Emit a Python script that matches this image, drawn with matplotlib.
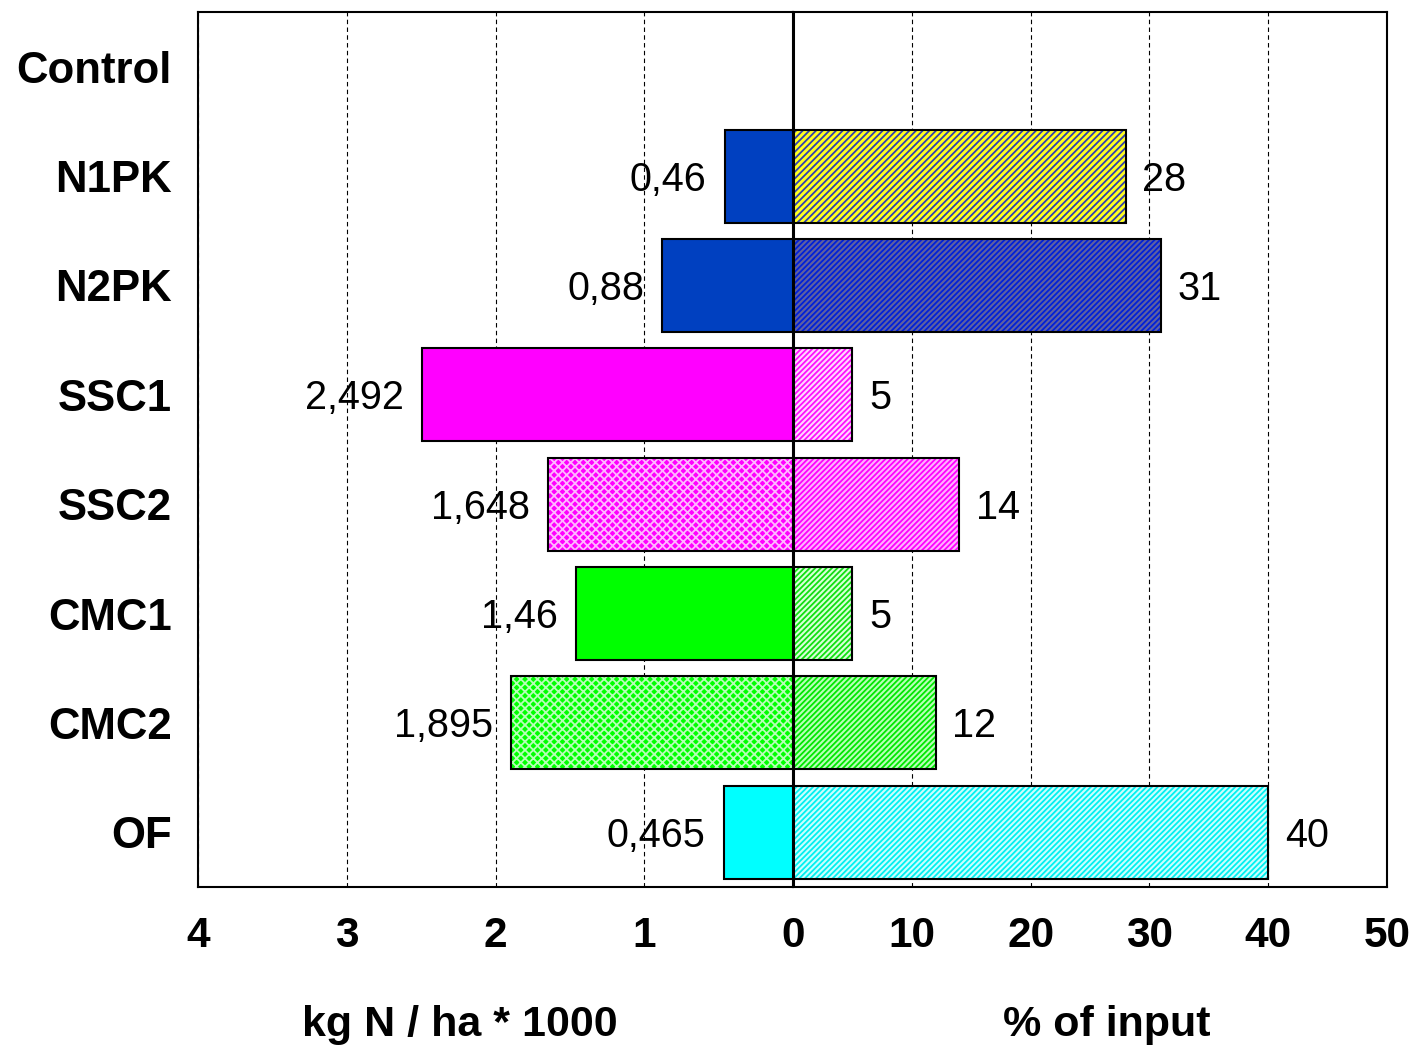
import matplotlib
matplotlib.use('Agg')
import matplotlib.pyplot as plt

# Data
categories = ['Control', 'N1PK', 'N2PK', 'SSC1', 'SSC2', 'CMC1', 'CMC2', 'OF']
kg_n = [None, 0.46, 0.88, 2.492, 1.648, 1.46, 1.895, 0.465]   # kg N / ha * 1000
pct_input = [None, 28, 31, 5, 14, 5, 12, 40]                  # % of input

# Styles per category: (face, hatch colour, hatch)
left_style = [None,
              ('#0040C0', '#0040C0', ''),
              ('#0040C0', '#0040C0', ''),
              ('#FF00FF', '#FF00FF', ''),
              ('#FF00FF', '#FFB8FF', 'xxxx'),
              ('#00FF00', '#00FF00', ''),
              ('#00FF00', '#B8FFB8', 'xxxx'),
              ('#00FFFF', '#00FFFF', '')]
right_style = [None,
               ('#FFFF20', '#3040B0', '/////'),
               ('#6060A0', '#0020D8', '//////'),
               ('#FFD8FF', '#FF10FF', '//////'),
               ('#FFB0FF', '#FF00FF', '//////'),
               ('#D8FFD8', '#10E010', '//////'),
               ('#B8FFB8', '#00E800', '//////'),
               ('#C8FFFF', '#00F0F0', '//////')]

plt.rcParams['font.family'] = ['Liberation Sans', 'DejaVu Sans']
plt.rcParams['hatch.linewidth'] = 1.3

fig = plt.figure(figsize=(14.14, 10.47), dpi=100)
ax_l = fig.add_axes([198 / 1414, 1 - 887 / 1047, 595 / 1414, 875 / 1047])
ax_r = fig.add_axes([793 / 1414, 1 - 887 / 1047, 594 / 1414, 875 / 1047], sharey=ax_l)
ax_r.patch.set_visible(False)

ypos = list(range(len(categories)))
bar_h = 0.85

for i in ypos:
    if kg_n[i] is not None:
        face, hc, hatch = left_style[i]
        ax_l.barh(i, kg_n[i], height=bar_h, color=face, edgecolor=hc, hatch=hatch, linewidth=0, zorder=3)
        ax_l.barh(i, kg_n[i], height=bar_h, facecolor='none', edgecolor='black', linewidth=1.5, zorder=4)
        ax_l.annotate(str(kg_n[i]).replace('.', ','), (kg_n[i], i), xytext=(-13, -2.5),
                      textcoords='offset points', ha='right', va='center', fontsize=28.5, zorder=5)
    if pct_input[i] is not None:
        face, hc, hatch = right_style[i]
        ax_r.barh(i, pct_input[i], height=bar_h, color=face, edgecolor=hc, hatch=hatch, linewidth=0, zorder=3)
        ax_r.barh(i, pct_input[i], height=bar_h, facecolor='none', edgecolor='black', linewidth=1.5, zorder=4)
        ax_r.annotate(str(pct_input[i]), (pct_input[i], i), xytext=(12, -2.5),
                      textcoords='offset points', ha='left', va='center', fontsize=28.5, zorder=5)

ax_l.set_xlim(4, 0)
ax_r.set_xlim(0, 50)
ax_l.set_ylim(len(categories) - 0.5, -0.5)

ax_l.set_xticks([4, 3, 2, 1, 0])
ax_r.set_xticks([10, 20, 30, 40, 50])
ax_l.set_yticks(ypos)
ax_l.set_yticklabels(categories)

for ax in (ax_l, ax_r):
    ax.tick_params(axis='x', length=0, pad=21, labelsize=30.5)
    for lab in ax.get_xticklabels():
        lab.set_fontweight('bold')
    ax.xaxis.grid(True, linestyle=(0, (4, 3)), color='black', linewidth=0.8, zorder=1)
    ax.set_axisbelow(True)
    for sp in ax.spines.values():
        sp.set_linewidth(1.5)
        sp.set_color('black')

ax_l.tick_params(axis='y', length=0, pad=19, labelsize=31.5)
for lab in ax_l.get_yticklabels():
    lab.set_fontweight('bold')
ax_r.tick_params(axis='y', left=False, labelleft=False, length=0)
ax_r.spines['left'].set_visible(False)
ax_r.axvline(0, color='black', linewidth=2.2, zorder=6)

fig.text(460 / 1414, 1 - 1025 / 1047, 'kg N / ha * 1000', ha='center', va='center',
         fontsize=31, fontweight='bold')
fig.text(1107 / 1414, 1 - 1025 / 1047, '% of input', ha='center', va='center',
         fontsize=31, fontweight='bold')

fig.savefig('out.png', dpi=100)
